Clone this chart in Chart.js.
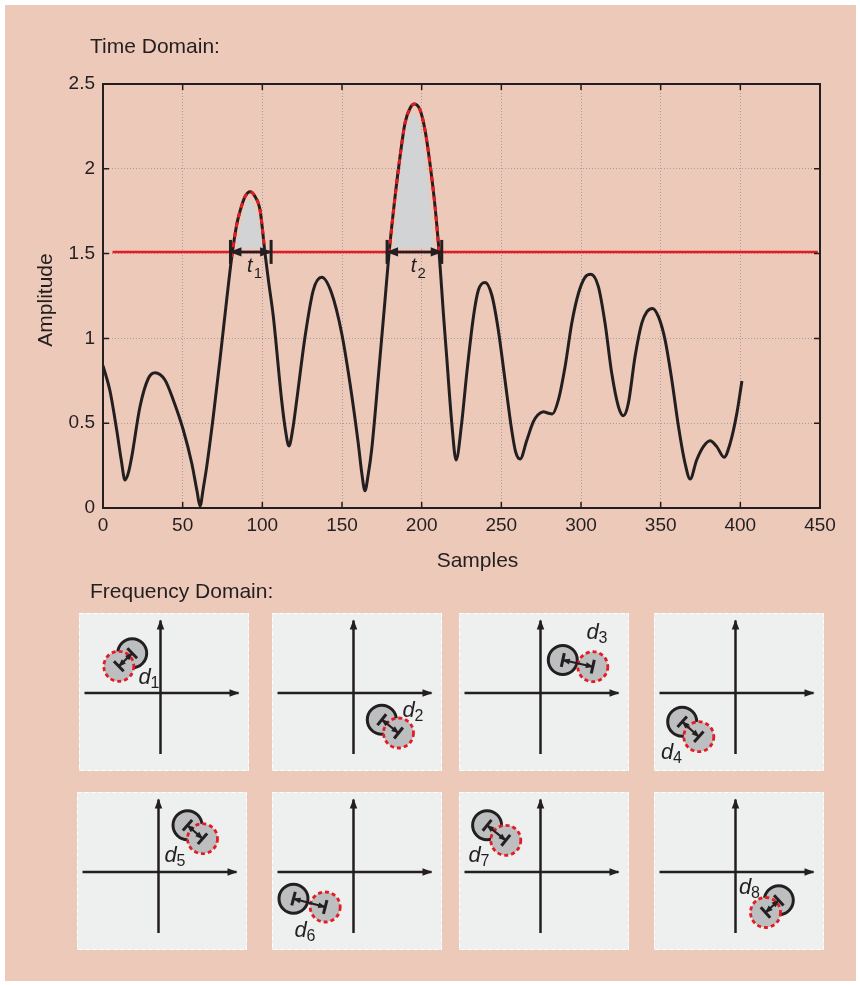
<!DOCTYPE html>
<html>
<head>
<meta charset="utf-8">
<title>Time Domain / Frequency Domain</title>
<script src="https://cdn.jsdelivr.net/npm/chart.js@4.4.1/dist/chart.umd.min.js"></script>
<style>
  html, body { margin: 0; padding: 0; background: #ffffff; }
  body { position: relative; width: 860px; height: 985px; overflow: hidden; font-family: "Liberation Sans", Arial, sans-serif; color: #231f20; }
  #fundo { position: absolute; left: 5px; top: 5px; width: 851px; height: 976px; background: #edc9b9; }
  .titulo { position: absolute; left: 90px; font-size: 21px; line-height: 21px; white-space: nowrap; }
  canvas { position: absolute; }
</style>
</head>
<body>
<div id="fundo"></div>
<canvas id="graficoTempo" width="860" height="600" style="left:0;top:0"></canvas>
<div class="titulo" style="top:35px">Time Domain:</div>
<div class="titulo" style="top:580px">Frequency Domain:</div>
<script>
Chart.defaults.font.family = "'Liberation Sans', Arial, sans-serif";
Chart.defaults.color = '#231f20';

// time domain signal
const samples = [0, 4.4, 8.6, 11.5, 13.8, 16, 18, 23.2, 28.5, 32.6, 38.9, 44.1, 50.4, 55.7, 59, 60.9, 63, 65.1, 69.2, 73.4,
  77.6, 80.8, 83.9, 86, 89.1, 92.3, 95.5, 98.6, 101.7, 104, 106.9, 112.1, 114.5, 116.7, 119, 121.6, 126.8, 132, 137.3, 143.5,
  149.8, 155, 160.2, 162.5, 164.4, 166.5, 168.6, 172.8, 177, 179.5, 183.3, 186.4, 189.5, 192.7, 195.4, 199, 202.1, 205.2, 208.4, 211,
  213.6, 215.7, 218.9, 221.6, 225.1, 228.3, 232.5, 235.6, 239.8, 244, 248.1, 252.3, 256.5, 259, 261.8, 266, 270.1, 273, 276.4, 279,
  282, 285.8, 290, 294.2, 298.4, 302.5, 306.1, 310.9, 315.1, 319.3, 323.5, 326.6, 329.7, 333.9, 338.1, 341.3, 344.8, 348.6, 352.8, 357,
  361.2, 365.3, 368.5, 372.6, 376.8, 381, 385.2, 389.8, 393.6, 397.8, 401];
const amplitude = [0.84, 0.69, 0.46, 0.28, 0.165, 0.21, 0.30, 0.597, 0.765, 0.798, 0.755, 0.637, 0.46, 0.264, 0.10, 0.012, 0.12, 0.244, 0.538, 0.873,
  1.226, 1.48, 1.67, 1.75, 1.835, 1.865, 1.835, 1.755, 1.5, 1.33, 1.128, 0.637, 0.46, 0.366, 0.46, 0.637, 1.01, 1.285, 1.36, 1.266,
  1.03, 0.735, 0.381, 0.2, 0.102, 0.2, 0.342, 0.774, 1.226, 1.5, 1.836, 2.071, 2.268, 2.357, 2.382, 2.347, 2.229, 2.032, 1.777, 1.5,
  1.15, 0.892, 0.5, 0.283, 0.5, 0.794, 1.128, 1.285, 1.33, 1.256, 1.05, 0.755, 0.46, 0.33, 0.289, 0.40, 0.509, 0.55, 0.568, 0.56,
  0.554, 0.637, 0.833, 1.089, 1.266, 1.36, 1.378, 1.305, 1.089, 0.794, 0.597, 0.544, 0.617, 0.892, 1.089, 1.157, 1.177, 1.128, 0.99, 0.755,
  0.479, 0.264, 0.171, 0.283, 0.362, 0.397, 0.362, 0.299, 0.381, 0.558, 0.749];

const threshold = 1.51;
const thresholdFrom = 6;
const thresholdTo = 448.6;

const windowStart = [80, 178.3];
const windowEnd = [105.5, 212.6];
const windowNames = ['1', '2'];

const shade1X = [83.9, 86, 88.5, 92.3, 96, 98.3, 100.2];
const shade1Y = [1.53, 1.64, 1.74, 1.82, 1.74, 1.64, 1.53];
const shade2X = [182.2, 184.5, 186.4, 188.5, 190.6, 193, 195.4, 198, 201, 203, 205.2, 207.3];
const shade2Y = [1.53, 1.75, 1.93, 2.1, 2.23, 2.3, 2.33, 2.28, 2.13, 1.98, 1.78, 1.53];

const xTickValues = [0, 50, 100, 150, 200, 250, 300, 350, 400, 450];
const yTickValues = [0, 0.5, 1, 1.5, 2, 2.5];

// frequency domain panels
const panelNames = ['1', '2', '3', '4', '5', '6', '7', '8'];
const refX = [-2.83, 2.83, 2.23, -5.33, 2.9, -6.0, -5.34, 4.33];
const refY = [3.97, -2.67, 3.3, -2.87, 4.67, -2.67, 4.67, -2.83];
const movedX = [-4.17, 4.5, 5.23, -3.67, 4.4, -2.83, -3.47, 3.0];
const movedY = [2.67, -4.0, 2.63, -4.37, 3.33, -3.5, 3.17, -4.05];

// layout of the panels
const panelLeft = [79, 272, 459, 654, 77, 272, 459, 654];
const panelTop = [613, 613, 613, 613, 792, 792, 792, 792];
const labelX = [-1.6, 5.5, 5.2, -6.85, 1.2, -5.3, -6.6, 0.95];
const labelY = [1.5, -1.8, 6.0, -6.0, 1.6, -5.9, 1.6, -1.6];

const ink = '#231f20';
const red = '#e31b23';
const shade = '#d1d3d4';
const disc = '#bcbec0';

function pontos(xs, ys) {
    return xs.map((x, i) => ({x: x, y: ys[i]}));
}

const setas = {
    id: 'setas',
    afterDatasetDraw(chart, args) {
        const ds = chart.data.datasets[args.index];
        if (!ds.arrows) return;
        const pts = args.meta.data;
        const ctx = chart.ctx;
        const size = ds.arrowSize || 8;
        const ponta = (tip, from) => {
            const ang = Math.atan2(tip.y - from.y, tip.x - from.x);
            ctx.save();
            ctx.translate(tip.x, tip.y);
            ctx.rotate(ang);
            ctx.beginPath();
            ctx.moveTo(1, 0);
            ctx.lineTo(-size, -size * 0.42);
            ctx.lineTo(-size, size * 0.42);
            ctx.closePath();
            ctx.fillStyle = ds.borderColor;
            ctx.fill();
            ctx.restore();
        };
        const n = pts.length;
        ponta(pts[n - 1], pts[n - 2]);
        if (ds.arrows === 'both') ponta(pts[0], pts[1]);
    }
};

const aneis = {
    id: 'aneis',
    afterDatasetDraw(chart, args) {
        const ds = chart.data.datasets[args.index];
        if (!ds.ring) return;
        const ctx = chart.ctx;
        args.meta.data.forEach(p => {
            ctx.save();
            ctx.beginPath();
            ctx.arc(p.x, p.y, ds.pointRadius, 0, Math.PI * 2);
            ctx.setLineDash([4, 3]);
            ctx.lineWidth = 2.8;
            ctx.strokeStyle = ds.ring;
            ctx.stroke();
            ctx.restore();
        });
    }
};

const moldura = {
    id: 'moldura',
    afterDraw(chart) {
        const {ctx, chartArea: a, scales} = chart;
        ctx.save();
        ctx.strokeStyle = ink;
        ctx.lineWidth = 1.5;
        ctx.beginPath();
        xTickValues.forEach(v => {
            const px = scales.x.getPixelForValue(v);
            ctx.moveTo(px, a.bottom);
            ctx.lineTo(px, a.bottom - 6);
            ctx.moveTo(px, a.top);
            ctx.lineTo(px, a.top + 6);
        });
        yTickValues.forEach(v => {
            const py = scales.y.getPixelForValue(v);
            ctx.moveTo(a.left, py);
            ctx.lineTo(a.left + 6, py);
            ctx.moveTo(a.right, py);
            ctx.lineTo(a.right - 6, py);
        });
        ctx.stroke();
        ctx.lineWidth = 2;
        ctx.strokeRect(a.left, a.top, a.right - a.left, a.bottom - a.top);
        ctx.restore();
    }
};

const rotulosTempo = {
    id: 'rotulosTempo',
    afterDraw(chart) {
        const {ctx, chartArea: a, scales} = chart;
        ctx.save();
        ctx.fillStyle = ink;
        ctx.textAlign = 'center';
        ctx.textBaseline = 'middle';
        ctx.font = "21px 'Liberation Sans', Arial, sans-serif";
        ctx.fillText('Samples', (a.left + a.right) / 2 + 16, a.bottom + 53);
        ctx.save();
        ctx.translate(a.left - 57, (a.top + a.bottom) / 2 + 4);
        ctx.rotate(-Math.PI / 2);
        ctx.fillText('Amplitude', 0, 0);
        ctx.restore();

        const py = scales.y.getPixelForValue(threshold) + 15;
        windowNames.forEach((nome, i) => {
            const px = scales.x.getPixelForValue((windowStart[i] + windowEnd[i]) / 2);
            ctx.textAlign = 'center';
            ctx.font = "italic 20px 'Liberation Sans', Arial, sans-serif";
            ctx.fillText('t', px - 1, py);
            ctx.textAlign = 'left';
            ctx.font = "15px 'Liberation Sans', Arial, sans-serif";
            ctx.fillText(nome, px + 3, py + 7);
        });
        ctx.restore();
    }
};

const curva = pontos(samples, amplitude);
const datasetsTempo = [];

windowStart.forEach((a, i) => {
    datasetsTempo.push({
        data: [{x: a, y: threshold}, {x: windowEnd[i], y: threshold}],
        borderColor: ink, borderWidth: 2.5, pointRadius: 0,
        arrows: 'both', arrowSize: 11, order: 0
    });
});

datasetsTempo.push({
    data: windowStart.flatMap((a, i) => [{x: a, y: threshold}, {x: windowEnd[i], y: threshold}]),
    showLine: false, pointStyle: 'line', pointRotation: 90, pointRadius: 12,
    pointBorderWidth: 3, pointBorderColor: ink, order: 1
});

windowStart.forEach((a, i) => {
    datasetsTempo.push({
        data: curva.filter(p => p.x >= a && p.x <= windowEnd[i] && p.y >= threshold - 0.05),
        borderColor: red, borderWidth: 3, borderDash: [5, 5], pointRadius: 0,
        cubicInterpolationMode: 'monotone', order: 2
    });
});

datasetsTempo.push({
    data: curva,
    borderColor: ink, borderWidth: 3, pointRadius: 0,
    cubicInterpolationMode: 'monotone', order: 3
});

[[shade1X, shade1Y], [shade2X, shade2Y]].forEach(([xs, ys]) => {
    datasetsTempo.push({
        data: pontos(xs, ys),
        fill: {value: 1.53}, backgroundColor: shade, borderColor: shade, borderWidth: 1,
        pointRadius: 0, tension: 0.2, order: 4
    });
});

datasetsTempo.push({
    data: [{x: thresholdFrom, y: threshold}, {x: thresholdTo, y: threshold}],
    borderColor: red, borderWidth: 2.5, pointRadius: 0, order: 5
});

const graficoTempo = new Chart(document.getElementById('graficoTempo'), {
    type: 'line',
    data: { datasets: datasetsTempo },
    options: {
        animation: false,
        responsive: false,
        events: [],
        layout: { autoPadding: false, padding: { left: 0, top: 84, right: 40, bottom: 0 } },
        plugins: { legend: { display: false }, tooltip: { enabled: false } },
        scales: {
            x: {
                type: 'linear', min: 0, max: 450,
                afterBuildTicks: s => { s.ticks = xTickValues.map(v => ({value: v})); },
                afterFit: s => { s.height = 92; },
                grid: { color: '#9d9fa2', lineWidth: 1, drawTicks: false },
                border: { display: false, dash: [1, 2] },
                ticks: { padding: 6, maxRotation: 0, autoSkip: false, font: { size: 19 }, callback: v => String(v) }
            },
            y: {
                type: 'linear', min: 0, max: 2.5,
                afterBuildTicks: s => { s.ticks = yTickValues.map(v => ({value: v})); },
                afterFit: s => { s.width = 103; },
                grid: { color: '#9d9fa2', lineWidth: 1, drawTicks: false },
                border: { display: false, dash: [1, 2] },
                ticks: { padding: 8, font: { size: 19 }, callback: v => String(v) }
            }
        }
    },
    plugins: [setas, moldura, rotulosTempo]
});

const fundoPainel = {
    id: 'fundoPainel',
    beforeDraw(chart) {
        const {ctx, width, height} = chart;
        ctx.save();
        ctx.fillStyle = '#eef0ef';
        ctx.fillRect(0, 0, width, height);
        ctx.strokeStyle = '#ffffff';
        ctx.setLineDash([4, 3]);
        ctx.lineWidth = 1;
        ctx.strokeRect(0.5, 0.5, width - 1, height - 1);
        ctx.restore();
    }
};

const rotuloPainel = {
    id: 'rotuloPainel',
    afterDraw(chart, args, opts) {
        const {ctx, scales} = chart;
        const px = scales.x.getPixelForValue(opts.x);
        const py = scales.y.getPixelForValue(opts.y);
        ctx.save();
        ctx.fillStyle = ink;
        ctx.textBaseline = 'middle';
        ctx.textAlign = 'center';
        ctx.font = "italic 22px 'Liberation Sans', Arial, sans-serif";
        ctx.fillText('d', px, py);
        ctx.textAlign = 'left';
        ctx.font = "16px 'Liberation Sans', Arial, sans-serif";
        ctx.fillText(opts.name, px + 6, py + 6);
        ctx.restore();
    }
};

function desenhaPainel(i) {
    const tela = document.createElement('canvas');
    tela.width = 170;
    tela.height = 158;
    tela.style.left = panelLeft[i] + 'px';
    tela.style.top = panelTop[i] + 'px';
    document.body.appendChild(tela);

    const ref = {x: refX[i], y: refY[i]};
    const moved = {x: movedX[i], y: movedY[i]};
    const giro = Math.atan2(-(moved.y - ref.y), moved.x - ref.x) * 180 / Math.PI + 90;

    return new Chart(tela, {
        type: 'scatter',
        data: {
            datasets: [
                { data: [ref, moved], showLine: true, borderColor: ink, borderWidth: 2.2, pointRadius: 0, arrows: 'both', arrowSize: 7, order: 0 },
                { data: [ref, moved], pointStyle: 'line', pointRotation: giro, pointRadius: 7, pointBorderWidth: 3, pointBorderColor: ink, order: 1 },
                { data: [moved], pointRadius: 15, pointBackgroundColor: disc, pointBorderWidth: 0, ring: red, order: 2 },
                { data: [ref], pointRadius: 14.5, pointBackgroundColor: disc, pointBorderColor: ink, pointBorderWidth: 3, order: 3 },
                { data: [{x: -7.6, y: 0}, {x: 7.8, y: 0}], showLine: true, borderColor: ink, borderWidth: 2.5, pointRadius: 0, arrows: 'end', arrowSize: 9, order: 4 },
                { data: [{x: 0, y: -6.1}, {x: 0, y: 7.25}], showLine: true, borderColor: ink, borderWidth: 2.5, pointRadius: 0, arrows: 'end', arrowSize: 9, order: 5 }
            ]
        },
        options: {
            animation: false,
            responsive: false,
            events: [],
            layout: { autoPadding: false, padding: 0 },
            plugins: {
                legend: { display: false },
                tooltip: { enabled: false },
                rotuloPainel: { name: panelNames[i], x: labelX[i], y: labelY[i] }
            },
            scales: {
                x: { type: 'linear', display: false, min: -8.15, max: 8.85 },
                y: { type: 'linear', display: false, min: -7.8, max: 8.0 }
            }
        },
        plugins: [fundoPainel, setas, aneis, rotuloPainel]
    });
}

const paineis = panelNames.map((nome, i) => desenhaPainel(i));
</script>
</body>
</html>
